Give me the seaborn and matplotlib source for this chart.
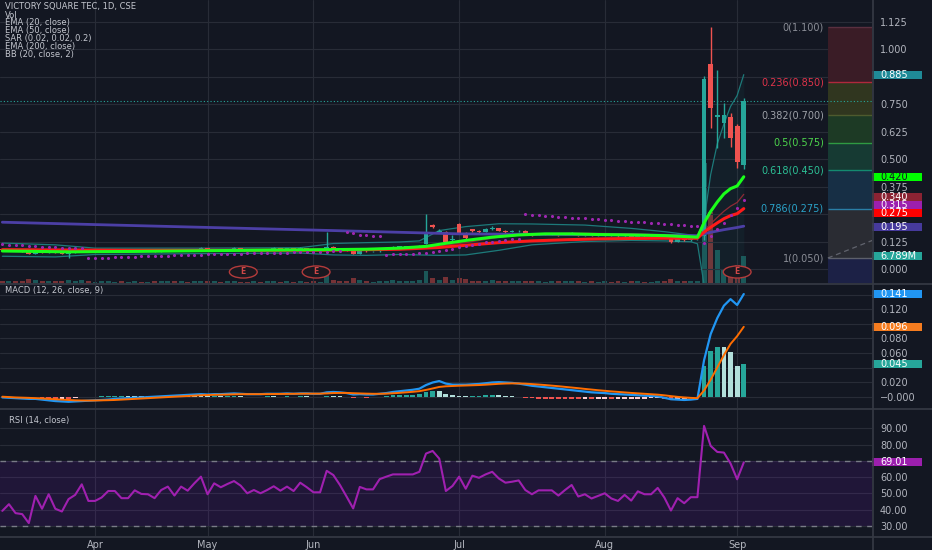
import numpy as np
import matplotlib
matplotlib.use("Agg")
import matplotlib.pyplot as plt
import matplotlib.transforms as mtransforms
from matplotlib.patches import Rectangle, Ellipse
from matplotlib.lines import Line2D
import seaborn as sns

# ---------------------------------------------------------------- data
title = "VICTORY SQUARE TEC, 1D, CSE"
study_names = ["Vol", "EMA (20, close)", "EMA (50, close)",
               "SAR (0.02, 0.02, 0.2)", "EMA (200, close)", "BB (20, close, 2)"]
macd_title = "MACD (12, 26, close, 9)"
rsi_title = "RSI (14, close)"

month_labels = ["Apr", "May", "Jun", "Jul", "Aug", "Sep"]
month_bars = [14, 31, 47, 69, 91, 111]
earnings_bars = [36.4, 47.4, 111]

opens = [
    0.09, 0.085, 0.09, 0.085, 0.08, 0.07, 0.08, 0.075, 0.08, 0.075,
    0.07, 0.075, 0.08, 0.09, 0.08, 0.08, 0.085, 0.09, 0.09, 0.085,
    0.085, 0.09, 0.085, 0.085, 0.08, 0.085, 0.09, 0.085, 0.09, 0.085,
    0.09, 0.095, 0.085, 0.09, 0.085, 0.09, 0.095, 0.09, 0.085, 0.09,
    0.085, 0.09, 0.095, 0.09, 0.095, 0.09, 0.095, 0.09, 0.085, 0.09,
    0.10, 0.095, 0.09, 0.085, 0.07, 0.085, 0.08, 0.08, 0.09, 0.095,
    0.10, 0.10, 0.10, 0.10, 0.115, 0.20, 0.17, 0.17, 0.13, 0.205,
    0.165, 0.18, 0.175, 0.17, 0.18, 0.185, 0.175, 0.17, 0.172, 0.175,
    0.16, 0.155, 0.16, 0.16, 0.16, 0.155, 0.16, 0.165, 0.155, 0.158,
    0.152, 0.155, 0.158, 0.152, 0.148, 0.152, 0.146, 0.152, 0.15, 0.15,
    0.155, 0.145, 0.125, 0.135, 0.13, 0.135, 0.15, 0.935, 0.69, 0.665,
    0.69, 0.65, 0.475]
highs = [
    0.092, 0.093, 0.092, 0.087, 0.082, 0.082, 0.082, 0.082, 0.082, 0.077,
    0.078, 0.082, 0.093, 0.09, 0.083, 0.087, 0.092, 0.093, 0.092, 0.087,
    0.092, 0.092, 0.087, 0.087, 0.087, 0.092, 0.092, 0.092, 0.092, 0.092,
    0.098, 0.097, 0.092, 0.092, 0.092, 0.098, 0.097, 0.092, 0.092, 0.092,
    0.092, 0.098, 0.097, 0.097, 0.097, 0.098, 0.097, 0.092, 0.088, 0.168,
    0.105, 0.097, 0.092, 0.087, 0.088, 0.087, 0.082, 0.093, 0.098, 0.103,
    0.104, 0.103, 0.104, 0.11, 0.25, 0.205, 0.18, 0.175, 0.155, 0.21,
    0.168, 0.182, 0.178, 0.185, 0.195, 0.188, 0.178, 0.176, 0.178, 0.178,
    0.162, 0.163, 0.163, 0.162, 0.162, 0.163, 0.168, 0.166, 0.16, 0.16,
    0.157, 0.16, 0.16, 0.154, 0.154, 0.154, 0.154, 0.154, 0.153, 0.157,
    0.157, 0.147, 0.137, 0.137, 0.137, 0.138, 0.88, 1.10, 0.905, 0.755,
    0.71, 0.66, 0.78]
lows = [
    0.083, 0.083, 0.083, 0.078, 0.066, 0.068, 0.073, 0.073, 0.073, 0.066,
    0.05, 0.073, 0.078, 0.078, 0.077, 0.078, 0.083, 0.087, 0.083, 0.082,
    0.083, 0.083, 0.082, 0.078, 0.078, 0.083, 0.083, 0.083, 0.083, 0.083,
    0.088, 0.082, 0.083, 0.082, 0.083, 0.088, 0.088, 0.082, 0.083, 0.083,
    0.083, 0.088, 0.088, 0.088, 0.088, 0.088, 0.088, 0.082, 0.082, 0.088,
    0.093, 0.088, 0.083, 0.066, 0.068, 0.078, 0.077, 0.078, 0.088, 0.093,
    0.097, 0.097, 0.097, 0.098, 0.112, 0.185, 0.165, 0.122, 0.128, 0.16,
    0.135, 0.17, 0.165, 0.168, 0.178, 0.172, 0.165, 0.168, 0.17, 0.155,
    0.15, 0.153, 0.155, 0.155, 0.15, 0.153, 0.158, 0.15, 0.152, 0.148,
    0.15, 0.152, 0.148, 0.145, 0.146, 0.143, 0.144, 0.147, 0.147, 0.148,
    0.145, 0.118, 0.122, 0.127, 0.128, 0.132, 0.13, 0.64, 0.55, 0.595,
    0.555, 0.46, 0.455]
closes = [
    0.085, 0.09, 0.085, 0.08, 0.07, 0.08, 0.075, 0.08, 0.075, 0.07,
    0.075, 0.08, 0.09, 0.08, 0.08, 0.085, 0.09, 0.09, 0.085, 0.085,
    0.09, 0.085, 0.085, 0.08, 0.085, 0.09, 0.085, 0.09, 0.085, 0.09,
    0.095, 0.085, 0.09, 0.085, 0.09, 0.095, 0.09, 0.085, 0.09, 0.085,
    0.09, 0.095, 0.09, 0.095, 0.09, 0.095, 0.09, 0.085, 0.085, 0.10,
    0.095, 0.09, 0.085, 0.07, 0.085, 0.08, 0.08, 0.09, 0.095, 0.10,
    0.10, 0.10, 0.10, 0.105, 0.16, 0.19, 0.175, 0.125, 0.135, 0.165,
    0.14, 0.175, 0.17, 0.18, 0.185, 0.175, 0.17, 0.172, 0.175, 0.16,
    0.155, 0.16, 0.16, 0.16, 0.155, 0.16, 0.165, 0.155, 0.158, 0.152,
    0.155, 0.158, 0.152, 0.148, 0.152, 0.146, 0.152, 0.15, 0.15, 0.155,
    0.148, 0.125, 0.135, 0.13, 0.135, 0.135, 0.865, 0.735, 0.70, 0.70,
    0.595, 0.485, 0.765]
volume_m = [
    0.6, 0.5, 0.4, 0.5, 0.9, 0.7, 0.5, 0.4, 0.5, 0.6,
    0.8, 0.5, 0.7, 0.5, 0.3, 0.4, 0.5, 0.3, 0.4, 0.3,
    0.4, 0.3, 0.3, 0.4, 0.4, 0.5, 0.4, 0.4, 0.3, 0.4,
    0.6, 0.5, 0.4, 0.3, 0.4, 0.5, 0.3, 0.3, 0.4, 0.3,
    0.4, 0.5, 0.3, 0.4, 0.3, 0.5, 0.3, 0.4, 0.3, 2.2,
    0.8, 0.5, 0.5, 1.2, 0.8, 0.4, 0.3, 0.5, 0.6, 0.7,
    0.5, 0.6, 0.5, 0.8, 3.0, 1.2, 0.8, 1.4, 0.7, 1.3,
    0.9, 0.6, 0.5, 0.6, 0.8, 0.6, 0.5, 0.4, 0.5, 0.6,
    0.5, 0.4, 0.3, 0.4, 0.5, 0.4, 0.5, 0.4, 0.3, 0.4,
    0.3, 0.4, 0.3, 0.4, 0.3, 0.4, 0.5, 0.3, 0.3, 0.4,
    0.5, 0.9, 0.5, 0.4, 0.4, 0.6, 30.0, 17.8, 8.2, 3.5,
    3.2, 4.4, 6.789]

ema20_bars = [0, 10, 20, 30, 40, 49, 55, 60, 64, 67, 70, 74, 78, 82, 86, 90,
              95, 100, 105, 106, 107, 108, 109, 110, 111, 112]
ema20 = [0.082, 0.078, 0.080, 0.083, 0.086, 0.088, 0.090, 0.095, 0.103, 0.117,
         0.130, 0.145, 0.155, 0.160, 0.160, 0.157, 0.155, 0.152, 0.145, 0.21,
         0.262, 0.305, 0.342, 0.366, 0.378, 0.420]
ema50_bars = [0, 20, 40, 50, 60, 66, 70, 75, 80, 85, 90, 95, 100, 105,
              106, 107, 108, 109, 110, 111, 112]
ema50 = [0.088, 0.085, 0.085, 0.086, 0.090, 0.098, 0.108, 0.120, 0.128, 0.133,
         0.137, 0.139, 0.140, 0.140, 0.168, 0.190, 0.210, 0.229, 0.243, 0.252,
         0.275]
ema200_bars = [0, 30, 50, 69, 90, 105, 106, 107, 108, 109, 110, 111, 112]
ema200 = [0.213, 0.190, 0.175, 0.160, 0.156, 0.152, 0.160, 0.167, 0.173,
          0.179, 0.184, 0.189, 0.195]

bb_bars = [0, 8, 14, 30, 45, 50, 55, 60, 63, 66, 70, 75, 80, 88, 95, 100,
           104, 105, 106, 107, 108, 109, 110, 111, 112]
bb_upper = [0.118, 0.110, 0.095, 0.095, 0.097, 0.116, 0.120, 0.123, 0.128,
            0.175, 0.193, 0.206, 0.205, 0.200, 0.185, 0.170, 0.155, 0.150,
            0.22, 0.43, 0.57, 0.66, 0.74, 0.79, 0.885]
bb_basis = [0.088, 0.082, 0.081, 0.082, 0.085, 0.090, 0.091, 0.093, 0.095,
            0.105, 0.12, 0.145, 0.16, 0.163, 0.16, 0.155, 0.15, 0.148,
            0.176, 0.206, 0.235, 0.263, 0.286, 0.303, 0.34]
bb_lower = [0.058, 0.055, 0.066, 0.070, 0.073, 0.064, 0.062, 0.066, 0.064,
            0.062, 0.064, 0.085, 0.11, 0.125, 0.13, 0.128, 0.124, 0.115,
            -0.07, -0.10, -0.14, -0.14, -0.13, -0.16, -0.205]

sar = [
    0.112, 0.111, 0.110, 0.108, 0.106, 0.104, 0.102, 0.100, 0.099, 0.097,
    0.096, 0.095, 0.094, 0.050, 0.050, 0.051, 0.052, 0.053, 0.054, 0.055,
    0.056, 0.057, 0.058, 0.059, 0.060, 0.061, 0.062, 0.063, 0.064, 0.064,
    0.065, 0.066, 0.067, 0.068, 0.069, 0.070, 0.070, 0.071, 0.072, 0.073,
    0.073, 0.074, 0.075, 0.075, 0.076, 0.077, 0.077, 0.078, 0.078, 0.079,
    0.080, 0.082, 0.168, 0.162, 0.157, 0.153, 0.150, 0.148, 0.064, 0.066,
    0.067, 0.069, 0.070, 0.072, 0.074, 0.077, 0.080, 0.086, 0.093, 0.100,
    0.106, 0.111, 0.116, 0.121, 0.125, 0.129, 0.132, 0.135, 0.138, 0.250,
    0.247, 0.244, 0.242, 0.240, 0.238, 0.236, 0.234, 0.232, 0.230, 0.228,
    0.226, 0.224, 0.222, 0.220, 0.218, 0.216, 0.214, 0.212, 0.210, 0.208,
    0.206, 0.204, 0.202, 0.200, 0.198, 0.196, 0.118, 0.150, 0.180, 0.210,
    0.245, 0.278, 0.315]

macd_line = [
    -0.001, -0.0015, -0.002, -0.0025, -0.003, -0.003, -0.004, -0.005, -0.006, -0.0065,
    -0.007, -0.0065, -0.006, -0.0055, -0.005, -0.0045, -0.004, -0.003, -0.0025, -0.002,
    -0.0015, -0.001, -0.0005, 0.0, 0.0005, 0.001, 0.0015, 0.002, 0.0025, 0.003,
    0.0035, 0.003, 0.0035, 0.0035, 0.004, 0.0045, 0.004, 0.0035, 0.0035, 0.0035,
    0.004, 0.004, 0.004, 0.0045, 0.004, 0.0045, 0.0045, 0.004, 0.004, 0.006,
    0.0065, 0.006, 0.005, 0.003, 0.0035, 0.003, 0.003, 0.004, 0.005, 0.0065,
    0.0075, 0.0085, 0.0095, 0.011, 0.016, 0.0195, 0.0215, 0.018, 0.0165, 0.0165,
    0.0165, 0.017, 0.0175, 0.0185, 0.0195, 0.02, 0.0195, 0.019, 0.018, 0.0165,
    0.015, 0.014, 0.013, 0.012, 0.011, 0.01, 0.009, 0.008, 0.007, 0.006,
    0.0055, 0.005, 0.004, 0.0035, 0.003, 0.0025, 0.002, 0.0015, 0.001, 0.0005,
    -0.0015, -0.0035, -0.004, -0.0045, -0.004, -0.003, 0.050, 0.086, 0.108, 0.125,
    0.134, 0.126, 0.141]
signal_line = [
    0.0, -0.0005, -0.001, -0.0013, -0.0016, -0.002, -0.0024, -0.003, -0.0035, -0.004,
    -0.0045, -0.005, -0.0052, -0.0053, -0.0052, -0.005, -0.0048, -0.0045, -0.004, -0.0035,
    -0.003, -0.0025, -0.002, -0.0015, -0.001, -0.0005, 0.0, 0.0005, 0.001, 0.0015,
    0.002, 0.0023, 0.0026, 0.0028, 0.003, 0.0033, 0.0035, 0.0035, 0.0035, 0.0035,
    0.0036, 0.0037, 0.0038, 0.0039, 0.004, 0.0041, 0.0042, 0.0042, 0.0042, 0.0045,
    0.005, 0.0052, 0.0052, 0.0048, 0.0045, 0.0042, 0.004, 0.004, 0.0042, 0.0047,
    0.0053, 0.006, 0.0067, 0.0076, 0.0093, 0.0113, 0.0134, 0.0143, 0.0147, 0.0151,
    0.0154, 0.0157, 0.016, 0.0165, 0.0171, 0.0177, 0.0181, 0.0183, 0.0182, 0.0179,
    0.0173, 0.0167, 0.016, 0.0152, 0.0144, 0.0135, 0.0126, 0.0117, 0.0107, 0.0098,
    0.0089, 0.0081, 0.0073, 0.0066, 0.0059, 0.0052, 0.0046, 0.004, 0.0034, 0.0028,
    0.0019, 0.0008, -0.0002, -0.001, -0.0016, -0.002, 0.0085, 0.0233, 0.0402, 0.0572,
    0.0725, 0.0832, 0.096]

rsi = [
    39.3, 43.4, 37.9, 37.3, 31.8, 48.5, 40.6, 49.5, 40.6, 38.9,
    46.5, 49.1, 55.6, 45.4, 45.4, 47.5, 51.5, 51.5, 47.1, 47.1,
    51.9, 49.7, 49.5, 47.1, 52.1, 54.2, 48.7, 54.2, 51.7, 56.2,
    60.3, 49.5, 56.2, 53.8, 55.8, 57.6, 54.8, 50.1, 52.1, 50.1,
    52.1, 54.4, 51.7, 54.2, 51.5, 56.6, 53.8, 50.7, 50.7, 63.9,
    61.3, 55.2, 48.1, 40.8, 54.0, 52.5, 52.5, 58.8, 60.3, 61.7,
    61.7, 61.7, 61.7, 63.3, 74.5, 76.1, 71.4, 51.5, 54.6, 60.3,
    52.9, 60.9, 59.6, 61.7, 63.3, 59.2, 56.6, 57.2, 58.0, 52.1,
    49.5, 51.9, 51.9, 51.9, 48.7, 52.1, 55.2, 48.1, 49.5, 46.9,
    48.5, 50.1, 46.9, 45.4, 49.1, 45.6, 51.3, 49.5, 49.5, 53.4,
    47.5, 39.5, 47.1, 44.0, 47.7, 47.7, 91.5, 79.2, 75.5, 75.1,
    68.4, 58.7, 69.01]

fib_ratios = ["0", "0.236", "0.382", "0.5", "0.618", "0.786", "1"]
fib_prices = [1.100, 0.850, 0.700, 0.575, 0.450, 0.275, 0.050]

# ---------------------------------------------------------------- style
sns.set_theme(style="dark")
plt.rcParams["font.family"] = ["DejaVu Sans"]

BG = "#131722"
GRID = "#282c37"
SEP = "#363a45"
TXT = "#b2b5be"
UP = "#26a69a"
DN = "#ef5350"

W, H = 932, 550
fig = plt.figure(figsize=(W / 100, H / 100), dpi=100, facecolor=BG)


def pane(top, bottom, right=872):
    return fig.add_axes([0, 1 - bottom / H, right / W, (bottom - top) / H])


ax_p = pane(0, 283)
ax_m = pane(284, 408)
ax_r = pane(409, 536)
ax_v = ax_p.twinx()
XLIM = (-0.35, 131.37)

for ax in (ax_p, ax_m, ax_r):
    ax.set_facecolor(BG)
    ax.set_xlim(*XLIM)
    for s in ax.spines.values():
        s.set_visible(False)
    ax.yaxis.tick_right()
    ax.tick_params(axis="y", length=0, pad=5.8, labelsize=7, labelcolor=TXT)
    ax.tick_params(axis="x", length=0, pad=3, labelsize=7, labelcolor=TXT)
    ax.set_xticks(month_bars)
    ax.grid(True, color=GRID, lw=0.8)
    ax.set_axisbelow(True)
ax_p.set_xticklabels([])
ax_m.set_xticklabels([])
ax_r.set_xticklabels(month_labels)

# volume sits behind the price series
ax_v.set_zorder(ax_p.get_zorder() - 1)
ax_p.patch.set_visible(False)
ax_v.set_facecolor(BG)
for s in ax_v.spines.values():
    s.set_visible(False)
ax_v.set_yticks([])
ax_v.set_ylim(0, 283 / 4.0)


def tick_text(values, fmt, hidden):
    # labels that sit under a value tag on the scale are left blank
    out = []
    for v in values:
        if any(abs(v - hv) < 1e-9 for hv in hidden):
            out.append("")
        else:
            out.append(fmt(v))
    return out


# ---------------------------------------------------------------- price pane
idx = np.arange(len(closes))
o, h, l, c = (np.asarray(a, float) for a in (opens, highs, lows, closes))
up = c >= o
cndl = np.where(up, UP, DN)

ax_v.bar(idx, volume_m, width=0.75, color=cndl, alpha=0.45, linewidth=0)

P_LO, P_HI = -0.0638, 1.225
ax_p.set_ylim(P_LO, P_HI)
pt = np.arange(0, 1.13, 0.125)
ax_p.set_yticks(pt)
ax_p.set_yticklabels(tick_text(pt, lambda v: f"{v:.3f}", [0.25, 0.875]))

# Fibonacci retracement block
fib_x0 = 124.7
band_cols = ["#3a1c26", "#30361f", "#1d3a25", "#163a33", "#172f45", "#2a2c33", "#1c2146"]
line_cols = ["#5a3040", "#b0283c", "#4e5a2e", "#2f9a42", "#148a70", "#2a7fa6", "#5d606b"]
text_cols = ["#8a8d96", "#e0334a", "#9ea1a8", "#4cd44c", "#2cbf95", "#2aa3c9", "#8a8d96"]
bounds = fib_prices + [P_LO]
for k in range(len(fib_prices)):
    ax_p.fill_between([fib_x0, XLIM[1]], bounds[k + 1], bounds[k],
                      color=band_cols[k], lw=0, zorder=1)
for p, r, lc, tc in zip(fib_prices, fib_ratios, line_cols, text_cols):
    ax_p.hlines(p, fib_x0, XLIM[1], color=lc, lw=1.0, zorder=2)
    ax_p.text(124.1, p, f"{r}({p:.3f})", ha="right", va="center",
              color=tc, fontsize=7, zorder=3)
ax_p.plot([fib_x0, 212.7], [fib_prices[-1], fib_prices[0]], ls=(0, (4, 3)),
          color="#787b86", lw=0.9, alpha=0.7, zorder=2)

# last price line
ax_p.hlines(c[-1], XLIM[0], XLIM[1], color=UP, lw=0.8, ls=(0, (1, 2)), zorder=2)

# Bollinger bands
ax_p.fill_between(bb_bars, bb_lower, bb_upper, color="#1e8a8a", alpha=0.07, lw=0, zorder=2)
sns.lineplot(x=bb_bars, y=bb_upper, ax=ax_p, color="#1d7a7a", lw=0.9, zorder=3)
sns.lineplot(x=bb_bars, y=bb_lower, ax=ax_p, color="#1d7a7a", lw=0.9, zorder=3)
sns.lineplot(x=bb_bars, y=bb_basis, ax=ax_p, color="#8e2a35", lw=0.9, zorder=3)

# candles
ax_p.vlines(idx, l, h, colors=cndl, lw=1.0, zorder=6)
body = np.maximum(np.abs(c - o), 0.0025)
ax_p.bar(idx, body, bottom=np.minimum(o, c), width=0.72, color=cndl, linewidth=0, zorder=7)

# moving averages and SAR
sns.lineplot(x=ema200_bars, y=ema200, ax=ax_p, color="#4c3fa6", lw=2.0, zorder=8)
sns.lineplot(x=ema50_bars, y=ema50, ax=ax_p, color="#ff1a1a", lw=2.2, zorder=8)
sns.lineplot(x=ema20_bars, y=ema20, ax=ax_p, color="#1aff1a", lw=2.2, zorder=9)
sns.scatterplot(x=idx, y=sar, ax=ax_p, s=5, color="#9c27b0", linewidth=0, zorder=10)

# earnings markers
for b in earnings_bars:
    ax_p.add_patch(Ellipse((b, -0.0137), 4.2, 0.055, facecolor="#1a1820",
                           edgecolor="#b33b3b", lw=1.0, zorder=11))
    ax_p.text(b, -0.0137, "E", ha="center", va="center", fontsize=5.5,
              color="#d04848", fontweight="bold", zorder=12)

# ---------------------------------------------------------------- MACD pane
macd = np.asarray(macd_line)
sig = np.asarray(signal_line)
hist = macd - sig
hcols = []
for k, v in enumerate(hist):
    prev = hist[k - 1] if k else v
    if v >= 0:
        hcols.append(UP if v > prev else "#b2dfdb")
    else:
        hcols.append("#ffcdd2" if v > prev else "#ef5350")
ax_m.bar(idx, hist, width=0.72, color=hcols, linewidth=0, zorder=3)
sns.lineplot(x=idx, y=macd, ax=ax_m, color="#2196f3", lw=1.6, zorder=4)
sns.lineplot(x=idx, y=sig, ax=ax_m, color="#ff6d00", lw=1.4, zorder=4)
ax_m.set_ylim(-0.01552, 0.1548)
mt = np.round(np.arange(0, 0.141, 0.02), 3)
ax_m.set_yticks(mt)
ax_m.set_yticklabels(tick_text(mt, lambda v: "\u22120.000" if v == 0 else f"{v:.3f}",
                               [0.04, 0.10, 0.14]))

# ---------------------------------------------------------------- RSI pane
ax_r.axhspan(30, 70, color="#9915ff", alpha=0.1, lw=0, zorder=1)
ax_r.axhline(70, color="#787b86", ls=(0, (4, 4)), lw=1.0, zorder=2)
ax_r.axhline(30, color="#787b86", ls=(0, (4, 4)), lw=1.0, zorder=2)
sns.lineplot(x=idx, y=rsi, ax=ax_r, color="#a020b0", lw=1.5, zorder=4)
ax_r.set_ylim(23.86, 101.87)
rt = np.arange(30, 91, 10)
ax_r.set_yticks(rt)
ax_r.set_yticklabels(tick_text(rt, lambda v: f"{v:.2f}", [70]))

for ax in (ax_p, ax_m, ax_r, ax_v):
    ax.set_xlabel("")
    ax.set_ylabel("")


# ---------------------------------------------------------------- value tags
def tag(ax, value, label, face, fg="white", shift_px=0.0, height_px=8.0):
    y0, y1 = ax.get_ylim()
    pos = ax.get_position()
    ppu = pos.height * H / (y1 - y0)
    yc = value - shift_px / ppu
    tr = mtransforms.blended_transform_factory(ax.transAxes, ax.transData)
    wpx = pos.width * W
    ax.add_patch(Rectangle((1.0, yc - height_px / 2 / ppu), 50 / wpx, height_px / ppu,
                           transform=tr, facecolor=face, edgecolor="none",
                           clip_on=False, zorder=20))
    ax.text(1.0 + 8 / wpx, yc, label, transform=tr, ha="left", va="center",
            fontsize=7, color=fg, clip_on=False, zorder=21)


# closely spaced tags are nudged apart on the scale
tag(ax_p, bb_upper[-1], f"{bb_upper[-1]:.3f}", "#1f8a97")
tag(ax_p, ema20[-1], f"{ema20[-1]:.3f}", "#00ff00", fg="#131722")
tag(ax_p, bb_basis[-1], f"{bb_basis[-1]:.3f}", "#8b2333", shift_px=2.2)
tag(ax_p, sar[-1], f"{sar[-1]:.3f}", "#9c1fae", shift_px=5.0)
tag(ax_p, ema50[-1], f"{ema50[-1]:.3f}", "#ff0000", shift_px=4.6)
tag(ax_p, ema200[-1], f"{ema200[-1]:.3f}", "#463a9c", shift_px=1.0)
tag(ax_v, volume_m[-1], f"{volume_m[-1]:.3f}M", "#26a69a")
tag(ax_m, macd[-1], f"{macd[-1]:.3f}", "#2196f3")
tag(ax_m, sig[-1], f"{sig[-1]:.3f}", "#f57c1f")
tag(ax_m, hist[-1], f"{hist[-1]:.3f}", "#26a69a")
tag(ax_r, rsi[-1], f"{rsi[-1]:.2f}", "#9c1fae")

# ---------------------------------------------------------------- separators
for yy in (283.5, 408.5, 536.5):
    fig.add_artist(Line2D([0, 1], [1 - yy / H] * 2, transform=fig.transFigure,
                          color=SEP, lw=1.2))
fig.add_artist(Line2D([872.5 / W] * 2, [0, 1], transform=fig.transFigure,
                      color=SEP, lw=1.2))

# ---------------------------------------------------------------- legends
LEG = "#c3c6ce"
fig.text(5 / W, 1 - 6.7 / H, title, color=LEG, fontsize=6, va="center", ha="left")
for k, name in enumerate(study_names):
    fig.text(5 / W, 1 - (15.0 + 7.9 * k) / H, name, color=LEG, fontsize=6,
             va="center", ha="left")
fig.text(5 / W, 1 - 291 / H, macd_title, color=LEG, fontsize=6, va="center", ha="left")
fig.text(9 / W, 1 - 420.7 / H, rsi_title, color=LEG, fontsize=6, va="center", ha="left")

fig.savefig("out.png", dpi=100, facecolor=BG)
